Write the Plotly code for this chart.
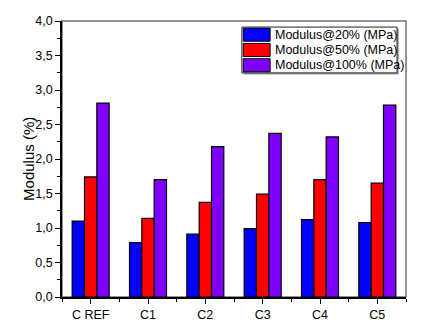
import plotly.graph_objects as go

categories = ["C REF", "C1", "C2", "C3", "C4", "C5"]
series_names = ["Modulus@20% (MPa)", "Modulus@50% (MPa)", "Modulus@100% (MPa)"]
mod20 = [1.10, 0.79, 0.91, 0.99, 1.12, 1.08]
mod50 = [1.74, 1.14, 1.37, 1.49, 1.70, 1.65]
mod100 = [2.81, 1.70, 2.18, 2.37, 2.32, 2.78]
colors = ["#0000ff", "#ff0000", "#8000ff"]

x = list(range(len(categories)))
fig = go.Figure()
for name, vals, col in zip(series_names, [mod20, mod50, mod100], colors):
    fig.add_trace(go.Bar(
        x=x, y=vals, name=name,
        marker=dict(color=col, line=dict(color="black", width=1.2)),
        showlegend=False,
    ))

font = "Liberation Sans, Arial, sans-serif"
fig.update_layout(
    width=426, height=326,
    margin=dict(l=62, r=20, t=21, b=29),
    plot_bgcolor="white", paper_bgcolor="white",
    barmode="group", bargap=0.355, bargroupgap=0,
    separators=",.",
    font=dict(family=font, size=12, color="black"),
    xaxis=dict(
        range=[-0.5, len(categories) - 0.5],
        tickvals=x, ticktext=categories,
        ticks="outside", ticklen=5, tickwidth=1.2, tickcolor="black",
        showline=True, linecolor="black", linewidth=1.5,
        showgrid=False, zeroline=False, automargin=False,
        minor=dict(ticks="outside", ticklen=3, tickwidth=1, tickcolor="black",
                   tick0=-0.5, dtick=1, showgrid=False),
        tickfont=dict(size=12.5),
    ),
    yaxis=dict(
        range=[0, 4], dtick=0.5, tickformat=".1f",
        ticks="outside", ticklen=5, tickwidth=1.2, tickcolor="black",
        showline=True, linecolor="black", linewidth=1.5,
        showgrid=False, zeroline=False, automargin=False,
        minor=dict(ticks="outside", ticklen=3, tickwidth=1, tickcolor="black",
                   dtick=0.25, showgrid=False),
        tickfont=dict(size=12.5),
    ),
)

# y-axis title
fig.add_annotation(xref="paper", yref="paper", x=-0.099, y=0.5, text="Modulus (%)",
                   textangle=-90, showarrow=False, xanchor="center", yanchor="middle",
                   font=dict(size=15, color="black"))

# grey frame on top and right
fig.add_shape(type="rect", xref="paper", yref="paper", x0=0, y0=0, x1=1, y1=1,
              line=dict(color="#707070", width=1.5), layer="below")

# legend box with wide colour swatches
lx0, lx1, ly0, ly1 = 0.523, 0.974, 0.812, 0.978
fig.add_shape(type="rect", xref="paper", yref="paper",
              x0=lx0 + 0.005, x1=lx1 + 0.005, y0=ly0 - 0.006, y1=ly1 - 0.006,
              line=dict(width=0), fillcolor="#a0a0a0")
fig.add_shape(type="rect", xref="paper", yref="paper", x0=lx0, x1=lx1, y0=ly0, y1=ly1,
              line=dict(color="#202020", width=1), fillcolor="white")
row_h = (ly1 - ly0) / 3
for i, (name, col) in enumerate(zip(series_names, colors)):
    top = ly1 - i * row_h - 0.004
    bot = ly1 - (i + 1) * row_h + 0.004
    fig.add_shape(type="rect", xref="paper", yref="paper",
                  x0=lx0 + 0.004, x1=lx0 + 0.082, y0=bot, y1=top,
                  line=dict(color="black", width=1), fillcolor=col)
    fig.add_annotation(xref="paper", yref="paper", x=lx0 + 0.090, y=(top + bot) / 2,
                       text=name, showarrow=False, xanchor="left", yanchor="middle",
                       font=dict(size=12.5, color="black"))

fig.write_html("out.html")
